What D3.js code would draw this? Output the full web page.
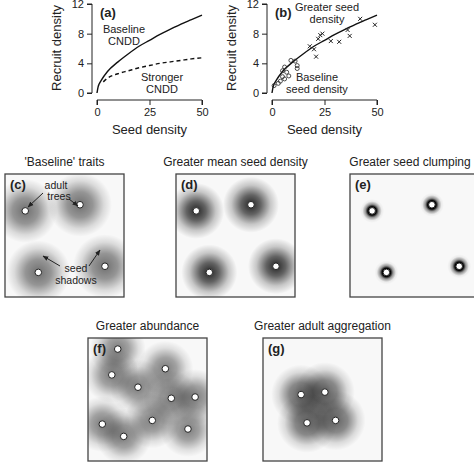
<!DOCTYPE html><html><head><meta charset="utf-8">
<script src="https://cdn.jsdelivr.net/npm/d3@7"></script>
<style>body{margin:0;background:#fff}text{font-family:"Liberation Sans",Arial,sans-serif;fill:#222}</style></head><body>
<svg id="s" width="474" height="462"></svg>
<script>
const xTicks=[0,25,50], yTicks=[0,4,8,12];
const baseline=[[0,0],[0.5,0.8],[1,1.2],[2,1.7],[5,2.9],[10,4.2],[15,5.3],[20,6.3],[25,7.1],[30,7.9],[35,8.6],[40,9.3],[45,9.9],[50,10.5]];
const stronger=[[3,1.5],[5,2.0],[10,2.6],[15,3.0],[20,3.4],[25,3.7],[30,4.0],[35,4.2],[40,4.4],[45,4.6],[50,4.75]];
const baseSeeds=[[1,1.0],[3,1.3],[4,1.6],[5,2.2],[6,1.9],[5,3.0],[6,3.5],[7,2.8],[8,2.3],[9,4.4],[11,4.3],[12,3.3],[12,3.7]];
const greaterSeeds=[[18,6.3],[20,5.9],[21,4.9],[22,7.3],[23,7.8],[24,8.0],[28,7.0],[32,6.9],[36,8.5],[37,7.7],[42,10.0],[49,9.2]];
const fourTrees=[[0.17,0.30],[0.63,0.25],[0.28,0.80],[0.84,0.75]];
const manyTrees=[[0.25,0.09],[0.2,0.30],[0.42,0.40],[0.65,0.25],[0.70,0.49],[0.90,0.48],[0.12,0.70],[0.30,0.80],[0.54,0.67],[0.84,0.74]];
const aggTrees=[[0.32,0.46],[0.52,0.44],[0.37,0.69],[0.61,0.67]];
const svg=d3.select("#s");
const defs=svg.append("defs");
function grad(id,stops){const g=defs.append("radialGradient").attr("id",id);stops.forEach(s=>g.append("stop").attr("offset",s[0]).attr("stop-color","#000").attr("stop-opacity",s[1]));}
grad("gc",[[0,0.55],[0.4,0.4],[0.75,0.12],[1,0]]);
grad("gd",[[0,0.85],[0.35,0.6],[0.7,0.2],[1,0]]);
grad("ge",[[0,1],[0.35,1],[0.55,0.4],[0.8,0.05],[1,0]]);
grad("gf",[[0,0.5],[0.4,0.35],[0.75,0.1],[1,0]]);
grad("gg",[[0,0.6],[0.4,0.45],[0.75,0.12],[1,0]]);

function plot(x0,curves,pts,texts,label){
  const x=d3.scaleLinear().domain([0,50]).range([x0,x0+105]);
  const y=d3.scaleLinear().domain([0,12]).range([93,4]);
  const g=svg.append("g");
  g.append("g").attr("transform","translate("+(x0-5)+",0)").call(d3.axisLeft(y).tickValues(yTicks).tickSize(5).tickPadding(3)).call(a=>{a.select(".domain").attr("d","M-5,93H0V4H-5")});
  g.append("g").attr("transform","translate(0,100)").call(d3.axisBottom(x).tickValues(xTicks).tickSize(5).tickPadding(3)).call(a=>{a.select(".domain").attr("d","M"+x(0)+",5V0H"+x(50)+"V5")});
  g.selectAll(".tick text").style("font-size","11px").style("font-family","Liberation Sans");
  g.selectAll(".domain,.tick line").attr("stroke","#222");
  const line=d3.line().x(d=>x(d[0])).y(d=>y(d[1])).curve(d3.curveMonotoneX);
  curves.forEach(c=>g.append("path").attr("d",line(c.d)).attr("fill","none").attr("stroke","#111").attr("stroke-width",1.4).attr("stroke-dasharray",c.dash||null));
  if(pts){
    g.selectAll(".o").data(pts[0]).join("circle").attr("cx",d=>x(d[0])).attr("cy",d=>y(d[1])).attr("r",2).attr("fill","none").attr("stroke","#222").attr("stroke-width",0.8);
    g.selectAll(".x").data(pts[1]).join("path").attr("d",d=>`M${x(d[0])-2},${y(d[1])-2}l4,4m0,-4l-4,4`).attr("stroke","#222").attr("stroke-width",1);
  }
  g.append("text").attr("x",x0+3).attr("y",17).attr("font-weight","bold").attr("font-size",13).text(label);
  texts.forEach(t=>g.append("text").attr("x",t[0]).attr("y",t[1]).attr("text-anchor","middle").attr("font-size",11).text(t[2]));
  g.append("text").attr("transform",`translate(${x0-36},48) rotate(-90)`).attr("text-anchor","middle").attr("font-size",13).text("Recruit density");
  g.append("text").attr("x",x(25)).attr("y",134).attr("text-anchor","middle").attr("font-size",13).text("Seed density");
}
plot(97,[{d:baseline},{d:stronger,dash:"4,3"}],null,[[124,33,"Baseline"],[124,45,"CNDD"],[162,81,"Stronger"],[162,93,"CNDD"]],"(a)");
plot(272,[{d:baseline}],[baseSeeds,greaterSeeds],[[327,11,"Greater seed"],[327,23,"density"],[317,81,"Baseline"],[317,93,"seed density"]],"(b)");

function map(bx,by,trees,gid,rad,title,label,w,h,tx){
  w=w||119;h=h||123;
  const x=d3.scaleLinear().domain([0,1]).range([bx,bx+w]);
  const y=d3.scaleLinear().domain([0,1]).range([by,by+h]);
  const g=svg.append("g");
  g.append("text").attr("x",tx||bx+w/2).attr("y",by-8).attr("text-anchor","middle").attr("font-size",12).text(title);
  g.append("rect").attr("x",bx).attr("y",by).attr("width",w).attr("height",h).attr("fill","#f8f8f8");
  const cl="c"+label.replace(/\W/g,"");
  defs.append("clipPath").attr("id",cl).append("rect").attr("x",bx).attr("y",by).attr("width",w).attr("height",h);
  g.append("g").attr("clip-path","url(#"+cl+")").selectAll("circle").data(trees).join("circle").attr("cx",d=>x(d[0])).attr("cy",d=>y(d[1])).attr("r",rad).attr("fill","url(#"+gid+")");
  g.append("rect").attr("x",bx).attr("y",by).attr("width",w).attr("height",h).attr("fill","none").attr("stroke","#444").attr("stroke-width",1.3);
  g.selectAll(".t").data(trees).join("circle").attr("cx",d=>x(d[0])).attr("cy",d=>y(d[1])).attr("r",3.3).attr("fill","#fff").attr("stroke","#222").attr("stroke-width",1);
  g.append("text").attr("x",bx+5).attr("y",by+15).attr("font-weight","bold").attr("font-size",13).text(label);
  return g;
}
const gc=map(5,174,fourTrees,"gc",32,"'Baseline' traits","(c)");
defs.append("marker").attr("id","ar").attr("viewBox","0 0 10 10").attr("refX",9).attr("refY",5).attr("markerWidth",6).attr("markerHeight",6).attr("orient","auto").append("path").attr("d","M0,1L10,5L0,9z").attr("fill","#222");
[["adult",56,189],["trees",59,200],["seed",76,272],["shadows",76,284]].forEach(t=>gc.append("text").attr("x",t[1]).attr("y",t[2]).attr("text-anchor","middle").attr("font-size",10.5).text(t[0]));
[[43,193,28,207],[69,199,78,206],[60,266,43,256],[89,266,100,250]].forEach(a=>gc.append("line").attr("x1",a[0]).attr("y1",a[1]).attr("x2",a[2]).attr("y2",a[3]).attr("stroke","#222").attr("stroke-width",1).attr("marker-end","url(#ar)"));
map(176,174,fourTrees,"gd",28,"Greater mean seed density","(d)");
map(350,174,fourTrees,"ge",12,"Greater seed clumping","(e)",130,null,410);
map(88,338,manyTrees,"gf",28,"Greater abundance","(f)");
map(263,338,aggTrees,"gg",30,"Greater adult aggregation","(g)");
</script></body></html>
